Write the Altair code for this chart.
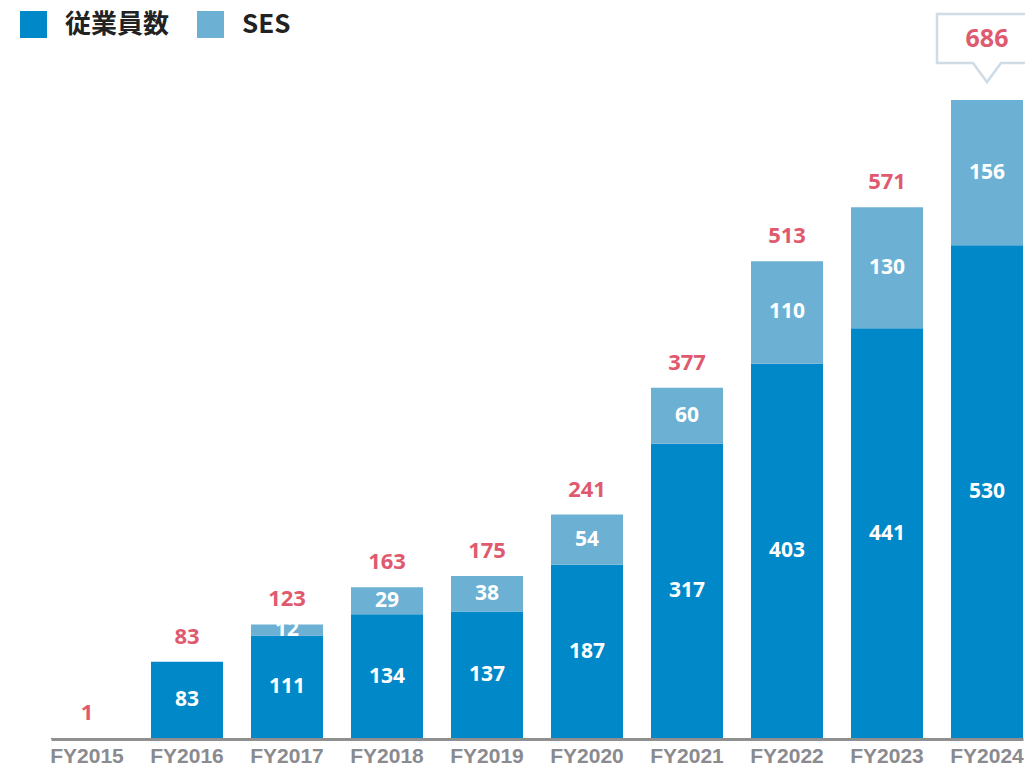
import altair as alt
import pandas as pd

years = ["FY2015", "FY2016", "FY2017", "FY2018", "FY2019",
         "FY2020", "FY2021", "FY2022", "FY2023", "FY2024"]
employees = [1, 83, 111, 134, 137, 187, 317, 403, 441, 530]
ses = [0, 0, 12, 29, 38, 54, 60, 110, 130, 156]
series_names = ["従業員数", "SES"]
series_colors = ["#0088c8", "#6cb1d3"]

RED = "#df5a6f"
NUM_FONT = "Noto Sans"

rows = []
for i, yr in enumerate(years):
    rows.append({"year": yr, "series": series_names[0], "value": employees[i], "order": 0})
    rows.append({"year": yr, "series": series_names[1], "value": ses[i], "order": 1})
df = pd.DataFrame(rows)

totals = [e + s for e, s in zip(employees, ses)]
tot = pd.DataFrame({
    "year": years,
    "total": totals,
    "callout": [i == len(years) - 1 for i in range(len(years))],
})

x_enc = alt.X(
    "year:N", sort=years, title=None,
    scale=alt.Scale(range=[13, 985], paddingInner=0.28, paddingOuter=0),
    axis=alt.Axis(labelAngle=0, ticks=False, domainColor="#8f8f8f", domainWidth=3,
                  labelFont="Liberation Sans", labelFontWeight="bold", labelFontSize=21,
                  labelColor="#8a8a8f", labelPadding=6, grid=False, zindex=1),
)
y_scale = alt.Scale(domain=[0, 729], nice=False, zero=True)

bars = alt.Chart(df).mark_bar().encode(
    x=x_enc,
    y=alt.Y("value:Q", stack="zero", scale=y_scale, axis=None),
    color=alt.Color("series:N", scale=alt.Scale(domain=series_names, range=series_colors),
                    legend=alt.Legend(title=None)),
    order=alt.Order("order:Q", sort="ascending"),
)

seg = alt.Chart(df).transform_stack(
    stack="value", groupby=["year"], sort=[alt.SortField("order", order="ascending")],
    as_=["y0", "y1"]
).transform_calculate(
    mid="(datum.y0 + datum.y1) / 2"
).transform_filter(
    "datum.value >= 10"
).mark_text(
    color="white", font=NUM_FONT, fontWeight="bold", fontSize=21, baseline="middle"
).encode(
    x=alt.X("year:N", sort=years),
    y=alt.Y("mid:Q", scale=y_scale, axis=None),
    text="value:Q",
)

tot_text = alt.Chart(tot).transform_filter("!datum.callout").mark_text(
    color=RED, font=NUM_FONT, fontWeight="bold", fontSize=22, baseline="middle", dy=-25
).encode(
    x=alt.X("year:N", sort=years),
    y=alt.Y("total:Q", scale=y_scale, axis=None),
    text="total:Q",
)

callout_path = "M-1,-1.36 L1,-1.36 L1,-0.38 L0.28,-0.38 L0,0 L-0.28,-0.38 L-1,-0.38 Z"
callout_box = alt.Chart(tot).transform_filter("datum.callout").mark_point(
    shape=callout_path, size=10000, filled=True, fill="white", stroke="#cfdbe5",
    strokeWidth=2.5, opacity=1, yOffset=-18
).encode(
    x=alt.X("year:N", sort=years),
    y=alt.Y("total:Q", scale=y_scale, axis=None),
)
callout_text = alt.Chart(tot).transform_filter("datum.callout").mark_text(
    color=RED, font=NUM_FONT, fontWeight="bold", fontSize=25, baseline="middle", dy=-61
).encode(
    x=alt.X("year:N", sort=years),
    y=alt.Y("total:Q", scale=y_scale, axis=None),
    text="total:Q",
)

chart = alt.layer(bars, seg, tot_text, callout_box, callout_text).properties(
    width=987, height=679,
    autosize=alt.AutoSizeParams(type="none"),
    padding={"left": 30, "top": 52, "right": 0, "bottom": 27},
).configure_view(stroke=None).configure_legend(
    orient="none", legendX=-18, legendY=-49, direction="horizontal",
    symbolType="square", symbolSize=729, symbolStrokeWidth=0, symbolOpacity=1,
    labelFont="Noto Sans CJK JP", labelFontSize=26, labelFontWeight="bold",
    labelColor="#222222", labelOffset=18, columnPadding=27, padding=0,
)

chart.save("out.html", embed_options={"renderer": "svg", "actions": False})
